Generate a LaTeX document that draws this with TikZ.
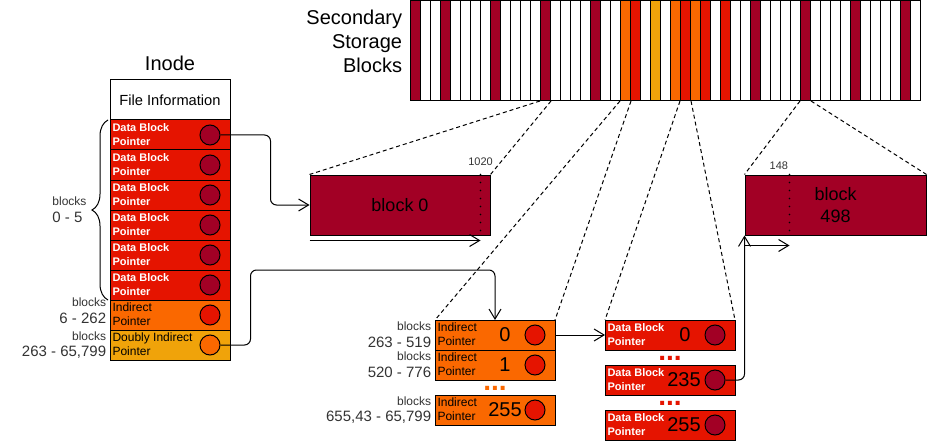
\documentclass[tikz,border=0pt]{standalone}
\usepackage{fontspec}
\setmainfont{Liberation Sans}
\usetikzlibrary{arrows.meta, positioning, calc, decorations.pathreplacing}
\definecolor{darkred}{HTML}{A20025}
\definecolor{ptrred}{HTML}{E51400}
\definecolor{ptrorange}{HTML}{FA6800}
\definecolor{ptramber}{HTML}{F0A30A}
\definecolor{darktext}{HTML}{333333}

\begin{document}
\begin{tikzpicture}[
    x=0.75pt, y=-0.75pt,
    line width=0.75pt,
    strip/.style={rectangle, draw, fill=#1, minimum width=7.5pt, minimum height=75pt,
                  inner sep=0pt, anchor=north west},
    heading/.style={font=\fontsize{15}{18}\selectfont},
    cell/.style={rectangle, draw, fill=#1, minimum width=90pt, minimum height=22.5pt,
                 inner sep=0pt, outer sep=0pt},
    dbrow/.style={cell=ptrred},
    dprow/.style={cell=ptrred, minimum width=97.5pt},
    rowtext/.style={anchor=west, align=left, inner xsep=1.5pt, inner ysep=0pt, yshift=0.5pt},
    dbtext/.style={rowtext, text=white, font=\fontsize{8.25}{10.5}\selectfont\bfseries},
    indtext/.style={rowtext, font=\fontsize{9}{10.5}\selectfont},
    knob/.style={circle, draw, fill=#1, minimum size=15pt, inner sep=0pt},
    num/.style={font=\fontsize{15}{18}\selectfont, inner sep=0pt},
    datablk/.style={rectangle, draw, fill=darkred, minimum width=#1, minimum height=45pt,
                    align=center, font=\fontsize{13.5}{16.5}\selectfont},
    rangelbl/.style={font=\fontsize{11.25}{12.5}\selectfont, text=darktext, inner sep=1pt},
    smalllbl/.style={font=\fontsize{8.25}{10}\selectfont, text=darktext, inner sep=0pt},
    ellip/.style={font=\fontsize{21}{21}\selectfont\bfseries, text=#1, inner sep=0pt,
                  text height=3pt, text depth=0pt, anchor=base},
    zoomline/.style={dash pattern=on 3pt off 2.25pt},
    dotline/.style={line width=1.3pt, dash pattern=on 0pt off 6pt, line cap=round},
    ptr/.style={-{Straight Barb[length=7.5pt, width=9pt]}, rounded corners=4.5pt}
]
\useasboundingbox (0,0) rectangle (927,442);

% Secondary storage
\foreach \col [count=\i from 0] in {darkred,white,white,darkred,white,white,white,white,darkred,white,
    white,white,white,darkred,white,white,white,white,darkred,white,
    white,ptrorange,ptrred,white,ptramber,white,ptrorange,ptrred,ptrorange,ptrred,
    white,ptrred,white,white,darkred,white,white,white,white,darkred,
    white,white,white,white,darkred,white,white,white,white,darkred,white}
  \node[strip=\col] (s\i) at ({410+10*\i},0) {};
\node[heading, align=right, anchor=east] (storlbl) at ([xshift=-2.25pt, yshift=6.75pt]s0.west)
    {Secondary\\Storage\\Blocks};

% Inode
\node[cell=white, minimum height=30pt, font=\fontsize{11}{13}\selectfont]
    (fileinfo) at (170,100) {File Information};
\node[heading, above=3pt of fileinfo] (inodetitle) {Inode};
\node[dbrow, below=0pt of fileinfo] (dbp1) {};
\node[dbrow, below=0pt of dbp1] (dbp2) {};
\node[dbrow, below=0pt of dbp2] (dbp3) {};
\node[dbrow, below=0pt of dbp3] (dbp4) {};
\node[dbrow, below=0pt of dbp4] (dbp5) {};
\node[dbrow, below=0pt of dbp5] (dbp6) {};
\node[cell=ptrorange, below=0pt of dbp6] (sip) {};
\node[cell=ptramber, below=0pt of sip] (dip) {};
\foreach \r in {1,...,6} {
  \node[dbtext] (t\r) at (dbp\r.west) {Data Block\\Pointer};
  \node[knob=darkred] (c\r) at ([xshift=-15pt]dbp\r.east) {};
}
\node[indtext] (tsip) at (sip.west) {Indirect\\Pointer};
\node[indtext] (tdip) at (dip.west) {Doubly Indirect\\Pointer};
\node[knob=ptrred] (csip) at ([xshift=-15pt]sip.east) {};
\node[knob=ptrorange] (cdip) at ([xshift=-15pt]dip.east) {};

% Inode block ranges
\draw[decorate, decoration={brace, amplitude=12pt}]
    ([xshift=-1.5pt]dbp6.south west) -- ([xshift=-1.5pt]dbp1.north west);
\coordinate (bracetip) at ($(dbp3.south west)+(-18,0)$);
\node[rangelbl, align=left, anchor=east] (lbl05) at ([xshift=-2.75pt]bracetip)
    {{\fontsize{9}{10}\selectfont blocks}\\0 - 5};
\node[rangelbl, align=right, anchor=east] (lblsip) at ([xshift=-1.5pt, yshift=3pt]sip.west)
    {{\fontsize{9}{10}\selectfont blocks}\\6 - 262};
\node[rangelbl, align=right, anchor=east] (lbldip) at ([xshift=-1.5pt]dip.west)
    {{\fontsize{9}{10}\selectfont blocks}\\263 - 65,799};

% Data blocks
\node[datablk=135pt] (blk0) at (400,205) {block 0};
\node[datablk=135.75pt] (blk498) at (835.5,205) {block\\498};
\coordinate (mark0top) at ($(blk0.north east)+(-10,0)$);
\coordinate (mark0bot) at ($(blk0.south east)+(-10,0)$);
\coordinate (mark498top) at ($(blk498.north west)+(45,0)$);
\coordinate (mark498bot) at ($(blk498.south west)+(45,0)$);
\draw[dotline] (mark0top) -- (mark0bot);
\draw[dotline] (mark498top) -- (mark498bot);
\node[smalllbl, anchor=base] (lbl1020) at ($(mark0top)+(0,-9)$) {1020};
\node[smalllbl, anchor=base east] (lbl148) at ($(mark498top)+(-1,-5)$) {148};

% Single indirect block
\node[cell=ptrorange, anchor=north west] (ind0) at (435,320) {};
\node[cell=ptrorange, below=0pt of ind0] (ind1) {};
\node[cell=ptrorange, below=11.25pt of ind1] (ind255) {};
\node[indtext] (ti0) at (ind0.west) {Indirect\\Pointer};
\node[indtext] (ti1) at (ind1.west) {Indirect\\Pointer};
\node[indtext] (ti255) at (ind255.west) {Indirect\\Pointer};
\node[num] (n0) at ([xshift=7.5pt]ind0.center) {0};
\node[num] (n1) at ([xshift=7.5pt]ind1.center) {1};
\node[num] (n255) at ([xshift=7.5pt]ind255.center) {255};
\node[knob=ptrred] (ci0) at ([xshift=-15pt]ind0.east) {};
\node[knob=ptrred] (ci1) at ([xshift=-15pt]ind1.east) {};
\node[knob=ptrred] (ci255) at ([xshift=-15pt]ind255.east) {};
\node[ellip=ptrorange] (idots) at ($(ind1.south)+(0,10)$) {...};
\node[rangelbl, align=right, anchor=east] (lbli0) at ([xshift=-1.5pt]ind0.west)
    {{\fontsize{9}{10}\selectfont blocks}\\263 - 519};
\node[rangelbl, align=right, anchor=east] (lbli1) at ([xshift=-1.5pt]ind1.west)
    {{\fontsize{9}{10}\selectfont blocks}\\520 - 776};
\node[rangelbl, align=right, anchor=east] (lbli255) at ([xshift=-1.5pt]ind255.west)
    {{\fontsize{9}{10}\selectfont blocks}\\655,43 - 65,799};

% Data pointer block
\node[dprow, right=37.5pt of ind0] (dp0) {};
\node[dprow, below=11.25pt of dp0] (dp235) {};
\node[dprow, below=11.25pt of dp235] (dp255) {};
\node[dbtext] (td0) at (dp0.west) {Data Block\\Pointer};
\node[dbtext] (td235) at (dp235.west) {Data Block\\Pointer};
\node[dbtext] (td255) at (dp255.west) {Data Block\\Pointer};
\node[num] (m0) at ([xshift=11.25pt]dp0.center) {0};
\node[num] (m235) at ([xshift=10.5pt]dp235.center) {235};
\node[num] (m255) at ([xshift=10.5pt]dp255.center) {255};
\node[knob=darkred] (cd0) at ([xshift=-15pt]dp0.east) {};
\node[knob=darkred] (cd235) at ([xshift=-15pt]dp235.east) {};
\node[knob=darkred] (cd255) at ([xshift=-15pt]dp255.east) {};
\node[ellip=ptrred] (ddots1) at ($(dp0.south)+(0,10.5)$) {...};
\node[ellip=ptrred] (ddots2) at ($(dp235.south)+(0,10.5)$) {...};

% Zoom lines
\draw[zoomline] (s13.south west) -- (blk0.north west);
\draw[zoomline] (s13.south east) -- (blk0.north east);
\draw[zoomline] (s21.south west) -- (ind0.north west);
\draw[zoomline] (s21.south east) -- (ind0.north east);
\draw[zoomline] (s27.south west) -- (dp0.north west);
\draw[zoomline] (s27.south east) -- (dp0.north east);
\draw[zoomline] (s39.south west) -- (blk498.north west);
\draw[zoomline] (s39.south east) -- (blk498.north east);

% Pointers
\draw[ptr] (c1.east) -- ++(50,0) |- (blk0.west);
\draw[ptr] (cdip.east) -- ++(30,0) |- ($(ind0.north)+(0,-50)$) -- (ind0.north);
\draw[ptr] (ind0.east) -- (dp0.west);
\draw[ptr] (cd235.east) -| (blk498.south west);
\draw[ptr] ($(blk0.south west)+(0,5)$) -- ($(mark0bot)+(0,5)$);
\draw[ptr] ($(blk498.south west)+(0,10)$) -- ($(mark498bot)+(0,10)$);

\end{tikzpicture}
\end{document}
